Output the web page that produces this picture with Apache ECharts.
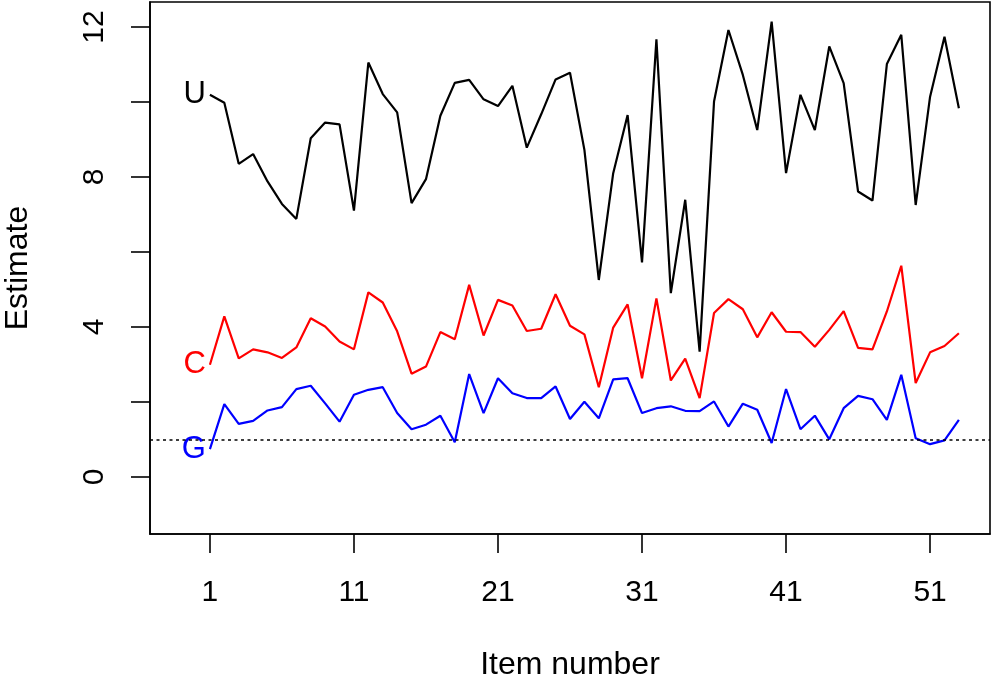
<!DOCTYPE html>
<html>
<head>
<meta charset="utf-8">
<script src="https://cdn.jsdelivr.net/npm/echarts@6/dist/echarts.min.js"></script>
<style>
  html, body { margin: 0; padding: 0; background: #fff; }
  #chart { width: 994px; height: 683px; }
</style>
</head>
<body>
<div id="chart"></div>
<script>
const items = [1,2,3,4,5,6,7,8,9,10,11,12,13,14,15,16,17,18,19,20,21,22,23,24,25,26,27,28,29,30,31,32,33,34,35,36,37,38,39,40,41,42,43,44,45,46,47,48,49,50,51,52,53];

const seriesU = [10.19,9.98,8.35,8.61,7.88,7.28,6.88,9.03,9.45,9.40,7.10,11.05,10.21,9.72,7.30,7.94,9.63,10.51,10.59,10.07,9.89,10.43,8.78,9.67,10.60,10.78,8.72,5.25,8.10,9.65,5.72,11.67,4.90,7.39,3.34,10.01,11.92,10.72,9.25,12.14,8.10,10.19,9.25,11.48,10.50,7.61,7.37,11.01,11.79,7.25,10.14,11.74,9.83];

const seriesC = [2.99,4.28,3.16,3.40,3.32,3.17,3.45,4.23,4.01,3.61,3.40,4.92,4.65,3.88,2.75,2.94,3.86,3.67,5.12,3.77,4.72,4.57,3.89,3.95,4.87,4.03,3.80,2.39,3.98,4.60,2.63,4.76,2.57,3.15,2.10,4.37,4.74,4.47,3.72,4.39,3.87,3.86,3.47,3.92,4.42,3.44,3.40,4.41,5.63,2.50,3.32,3.49,3.83];

const seriesG = [0.74,1.94,1.41,1.49,1.77,1.86,2.34,2.43,1.96,1.47,2.19,2.32,2.39,1.70,1.27,1.39,1.63,0.92,2.74,1.70,2.63,2.23,2.10,2.10,2.41,1.54,2.00,1.56,2.60,2.63,1.70,1.83,1.88,1.76,1.75,2.01,1.34,1.95,1.79,0.90,2.34,1.27,1.63,1.00,1.83,2.16,2.07,1.52,2.72,1.03,0.87,0.97,1.52];

const seriesNames = ['U', 'C', 'G'];
const seriesColors = ['#000000', '#ff0000', '#0000ff'];

const xTickValues = [1, 11, 21, 31, 41, 51];
const yTickValues = [0, 2, 4, 6, 8, 10, 12];
const yLabelValues = [0, 4, 8, 12];
const referenceLine = 1;

const FONT = '"Liberation Sans", Arial, Helvetica, sans-serif';
const FS_TICK = 30;
const FS_NAME = 32;
const FS_SER = 31;

function buildData(values, label, color) {
  return values.map((v, i) => {
    if (i === 0) {
      return {
        value: [items[i], v],
        label: {
          show: true, formatter: label, position: 'left', distance: 4,
          color: color, fontSize: FS_SER, fontFamily: FONT
        }
      };
    }
    return [items[i], v];
  });
}

const allValues = [seriesU, seriesC, seriesG];
const series = allValues.map((vals, k) => ({
  type: 'line',
  name: seriesNames[k],
  data: buildData(vals, seriesNames[k], seriesColors[k]),
  symbol: 'circle',
  symbolSize: 0,
  showSymbol: true,
  lineStyle: { color: seriesColors[k], width: 2.2 },
  itemStyle: { color: seriesColors[k] },
  emphasis: { disabled: true },
  z: 3 - k + 2,
  markLine: k === 2 ? {
    silent: true,
    symbol: ['none', 'none'],
    label: { show: false },
    lineStyle: { color: '#000', type: [3, 3.5], width: 1.6 },
    emphasis: { disabled: true },
    data: [{ yAxis: referenceLine }]
  } : undefined
}));

const chart = echarts.init(document.getElementById('chart'), null, { renderer: 'canvas' });
chart.setOption({
  animation: false,
  backgroundColor: '#ffffff',
  grid: {
    left: 150, right: 4, top: 2, bottom: 149,
    show: true, borderColor: '#000', borderWidth: 1.6, backgroundColor: 'transparent',
    containLabel: false, outerBoundsMode: 'none'
  },
  xAxis: {
    type: 'value',
    min: -3.16, max: 55.16,
    name: 'Item number',
    nameLocation: 'middle',
    nameGap: 115,
    nameTextStyle: { fontSize: FS_NAME, fontFamily: FONT, color: '#000' },
    axisLine: { show: true, onZero: false, lineStyle: { color: '#000', width: 1.6 } },
    axisTick: { show: true, customValues: xTickValues, length: 19, lineStyle: { color: '#000', width: 1.6 } },
    axisLabel: { show: true, customValues: xTickValues, margin: 44, fontSize: FS_TICK, fontFamily: FONT, color: '#000' },
    splitLine: { show: false },
    minorTick: { show: false }
  },
  yAxis: {
    type: 'value',
    min: -1.526, max: 12.666,
    name: 'Estimate',
    nameLocation: 'middle',
    nameGap: 116,
    nameRotate: 90,
    nameTextStyle: { fontSize: FS_NAME, fontFamily: FONT, color: '#000' },
    axisLine: { show: true, onZero: false, lineStyle: { color: '#000', width: 1.6 } },
    axisTick: { show: true, customValues: yTickValues, length: 19, lineStyle: { color: '#000', width: 1.6 } },
    axisLabel: { show: true, customValues: yLabelValues, rotate: 90, margin: 40, fontSize: FS_TICK, fontFamily: FONT, color: '#000' },
    splitLine: { show: false },
    minorTick: { show: false }
  },
  tooltip: { show: false },
  legend: { show: false },
  series: series
});
</script>
</body>
</html>
